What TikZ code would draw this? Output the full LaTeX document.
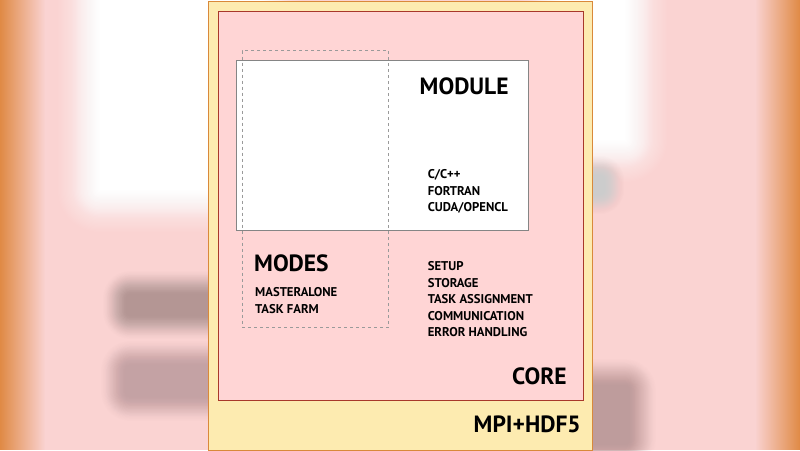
\documentclass[tikz,border=0pt]{standalone}
\usepackage{fontspec}
\setmainfont{PT Sans}
\usetikzlibrary{fadings}
\definecolor{bgorange}{HTML}{E08A45}
\definecolor{bgpink}{HTML}{FAD3D2}
\definecolor{blobA}{HTML}{B49694}
\definecolor{blobB}{HTML}{C4A2A4}
\definecolor{blobC}{HTML}{BE9C9C}
\definecolor{blobG}{HTML}{CCCCCC}
\definecolor{outerfill}{HTML}{FDEBB0}
\definecolor{outerdraw}{HTML}{D9893A}
\definecolor{innerfill}{HTML}{FFD5D5}
\definecolor{innerdraw}{HTML}{A8382A}
\definecolor{modgray}{HTML}{858585}
\definecolor{dashgray}{HTML}{9A9A9A}
% soft-edged box: colour, x1, y1, x2, y2, blur width (smoothstep ramp)
\newcommand{\fuzzbox}[6]{%
  \foreach \k in {1,...,40}{%
    \pgfmathsetmacro\dd{#6*(1-(\k-1)/39)}%
    \pgfmathsetmacro\tt{\k/40}%
    \pgfmathsetmacro\tp{(\k-1)/40}%
    \pgfmathsetmacro\cc{3*\tt*\tt-2*\tt*\tt*\tt}%
    \pgfmathsetmacro\cp{3*\tp*\tp-2*\tp*\tp*\tp}%
    \pgfmathsetmacro\aa{min(1,(\cc-\cp)/(1-\cp))}%
    \fill[#1, opacity=\aa, rounded corners=\dd pt] ({#2-\dd},{#3-\dd}) rectangle ({#4+\dd},{#5+\dd});
  }}
\tikzset{
  bigtxt/.style={font=\bfseries\fontsize{23.5}{26}\selectfont, inner sep=0pt, anchor=base west},
  smalltxt/.style={font=\bfseries\fontsize{12.7}{16.4}\selectfont, inner sep=0pt, anchor=base west},
}
\begin{document}
\begin{tikzpicture}[x=1pt,y=-1pt]
\useasboundingbox (0,0) rectangle (800,450);
% blurred background
\fill[bgpink] (0,0) rectangle (800,450);
\fuzzbox{white}{100}{-50}{260}{190}{50}
\fuzzbox{white}{560}{-50}{625}{140}{50}
\fuzzbox{blobG}{585}{180}{600}{190}{25}
\fuzzbox{blobA}{130}{298}{260}{312}{28}
\fuzzbox{blobB}{130}{370}{260}{392}{30}
\fuzzbox{blobC}{560}{390}{625}{440}{32}
\fill[bgorange, path fading=east] (0,0) rectangle (45,450);
\fill[bgorange, path fading=west] (755,0) rectangle (800,450);
% diagram
\node[draw=outerdraw, line width=1pt, fill=outerfill, inner sep=0pt, minimum width=384pt, minimum height=449pt, anchor=north west] (outer) at (207.6,0.5) {};
\node[draw=innerdraw, line width=1pt, fill=innerfill, inner sep=0pt, minimum width=365.5pt, minimum height=389pt, anchor=north west] (inner) at (217.5,11) {};
\node[draw=modgray, line width=0.8pt, fill=white, inner sep=0pt, minimum width=292pt, minimum height=170pt, anchor=north west] (module) at (236,60) {};
\node[draw=dashgray, dashed, line width=0.5pt, inner sep=0pt, minimum width=146.5pt, minimum height=277pt, anchor=north west] (modes) at (241.8,50.3) {};
% labels
\node[bigtxt] (tmodule) at (419.5,94) {MODULE};
\node[bigtxt] (tmodes) at (254,271.7) {MODES};
\node[bigtxt] (tcore) at (512,384) {CORE};
\node[bigtxt] (tmpi) at (473.5,432.7) {MPI+HDF5};
\node[smalltxt] (l1) at (427.6,178.3) {C/C++};
\node[smalltxt] (l2) at (427.6,195) {FORTRAN};
\node[smalltxt] (l3) at (427.6,211.3) {CUDA/OPENCL};
\node[smalltxt] (m1) at (255,296.7) {MASTERALONE};
\node[smalltxt] (m2) at (255,313) {TASK FARM};
\node[smalltxt] (c1) at (427.6,270.7) {SETUP};
\node[smalltxt] (c2) at (427.6,287) {STORAGE};
\node[smalltxt] (c3) at (427.6,303.7) {TASK ASSIGNMENT};
\node[smalltxt] (c4) at (427.6,320) {COMMUNICATION};
\node[smalltxt] (c5) at (427.6,336) {ERROR HANDLING};
\end{tikzpicture}
\end{document}
